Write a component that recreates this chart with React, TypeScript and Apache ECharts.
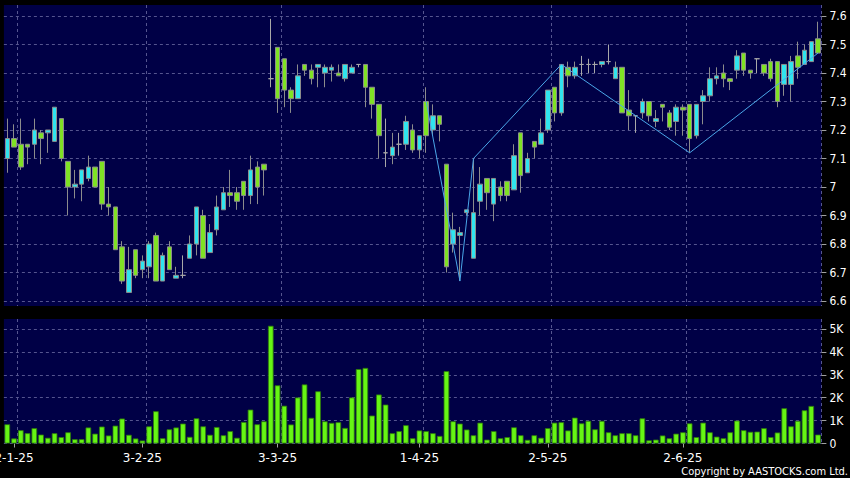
import React, { useEffect, useRef } from "react";
import * as echarts from "echarts";

// Trading days (d-m-yy)
const dec24 = [31];
const jan25 = [2, 3, 6, 7, 8, 9, 10, 13, 14, 15, 16, 17, 20, 21, 22, 23, 24, 27, 28];
const feb25 = [3, 4, 5, 6, 7, 10, 11, 12, 13, 14, 17, 18, 19, 20, 21, 24, 25, 26, 27, 28];
const mar25 = [3, 4, 5, 6, 7, 10, 11, 12, 13, 14, 17, 18, 19, 20, 21, 24, 25, 26, 27, 28, 31];
const apr25 = [1, 2, 3, 7, 8, 9, 10, 11, 14, 15, 16, 17, 22, 23, 24, 25, 28, 29, 30];
const may25 = [2, 6, 7, 8, 9, 12, 13, 14, 15, 16, 19, 20, 21, 22, 23, 26, 27, 28, 29, 30];
const jun25 = [2, 3, 4, 5, 6, 9, 10, 11, 12, 13, 16, 17, 18, 19, 20, 23, 24, 25, 26, 27, 30];

const dates: string[] = [
  ...dec24.map((d) => `${d}-12-24`),
  ...jan25.map((d) => `${d}-1-25`),
  ...feb25.map((d) => `${d}-2-25`),
  ...mar25.map((d) => `${d}-3-25`),
  ...apr25.map((d) => `${d}-4-25`),
  ...may25.map((d) => `${d}-5-25`),
  ...jun25.map((d) => `${d}-6-25`),
];

const labelDates = ["2-1-25", "3-2-25", "3-3-25", "1-4-25", "2-5-25", "2-6-25"];

// [open, close, low, high]
const candles: number[][] = [
  [7.10, 7.17, 7.05, 7.24], [7.17, 7.14, 7.14, 7.22], [7.15, 7.07, 7.06, 7.24], [7.15, 7.14, 7.08, 7.15],
  [7.15, 7.20, 7.10, 7.24], [7.19, 7.17, 7.08, 7.20], [7.19, 7.20, 7.12, 7.20], [7.16, 7.28, 7.16, 7.28],
  [7.24, 7.10, 7.09, 7.24], [7.09, 7.00, 6.90, 7.09], [7.00, 7.01, 6.96, 7.06], [7.01, 7.06, 6.95, 7.06],
  [7.03, 7.07, 7.02, 7.11], [7.07, 7.00, 7.00, 7.07], [7.09, 6.94, 6.92, 7.09], [6.94, 6.93, 6.90, 7.00],
  [6.93, 6.78, 6.78, 6.93], [6.79, 6.67, 6.66, 6.81], [6.63, 6.71, 6.63, 6.79], [6.78, 6.69, 6.68, 6.78],
  [6.71, 6.74, 6.68, 6.76], [6.72, 6.80, 6.68, 6.81], [6.83, 6.67, 6.67, 6.84], [6.67, 6.76, 6.67, 6.77],
  [6.79, 6.71, 6.71, 6.81], [6.68, 6.69, 6.68, 6.72], [6.69, 6.69, 6.68, 6.76], [6.75, 6.80, 6.75, 6.83],
  [6.80, 6.93, 6.76, 6.93], [6.90, 6.75, 6.75, 6.92], [6.77, 6.84, 6.77, 6.87], [6.85, 6.93, 6.83, 6.97],
  [6.92, 6.98, 6.92, 7.00], [6.98, 6.97, 6.93, 7.06], [6.98, 6.95, 6.92, 7.00], [7.02, 6.97, 6.92, 7.02],
  [6.97, 7.06, 6.94, 7.11], [7.07, 7.00, 6.94, 7.09], [7.08, 7.06, 6.97, 7.08], [7.38, 7.38, 7.35, 7.59],
  [7.49, 7.31, 7.26, 7.49], [7.45, 7.34, 7.28, 7.45], [7.34, 7.31, 7.26, 7.35], [7.31, 7.39, 7.31, 7.43],
  [7.43, 7.41, 7.39, 7.43], [7.41, 7.38, 7.36, 7.43], [7.42, 7.43, 7.35, 7.43], [7.40, 7.42, 7.35, 7.43],
  [7.41, 7.42, 7.37, 7.43], [7.40, 7.39, 7.39, 7.43], [7.38, 7.43, 7.37, 7.43], [7.40, 7.42, 7.40, 7.43],
  [7.43, 7.43, 7.42, 7.43], [7.43, 7.35, 7.28, 7.43], [7.35, 7.29, 7.24, 7.35], [7.29, 7.18, 7.10, 7.29],
  [7.12, 7.12, 7.07, 7.24], [7.11, 7.14, 7.08, 7.19], [7.15, 7.15, 7.11, 7.19], [7.15, 7.23, 7.13, 7.25],
  [7.20, 7.13, 7.12, 7.22], [7.13, 7.18, 7.10, 7.18], [7.30, 7.18, 7.12, 7.35], [7.20, 7.25, 7.18, 7.29],
  [7.25, 7.22, 7.16, 7.25], [7.08, 6.72, 6.70, 7.08], [6.80, 6.85, 6.77, 6.91], [6.83, 6.84, 6.67, 6.86],
  [6.91, 6.92, 6.90, 6.92], [6.75, 6.91, 6.75, 7.10], [6.95, 7.01, 6.90, 7.07], [7.03, 6.98, 6.92, 7.03],
  [6.94, 7.03, 6.88, 7.03], [7.00, 6.97, 6.95, 7.02], [7.02, 6.97, 6.95, 7.02], [6.99, 7.11, 6.99, 7.15],
  [7.19, 7.04, 6.98, 7.19], [7.05, 7.10, 7.05, 7.12], [7.16, 7.14, 7.10, 7.16], [7.15, 7.19, 7.15, 7.24],
  [7.20, 7.34, 7.19, 7.34], [7.35, 7.26, 7.23, 7.35], [7.26, 7.43, 7.25, 7.43], [7.42, 7.39, 7.35, 7.44],
  [7.39, 7.42, 7.38, 7.44], [7.43, 7.43, 7.39, 7.46], [7.43, 7.43, 7.40, 7.45], [7.43, 7.43, 7.40, 7.44],
  [7.43, 7.44, 7.42, 7.44], [7.44, 7.44, 7.43, 7.50], [7.38, 7.42, 7.38, 7.44], [7.42, 7.26, 7.26, 7.42],
  [7.27, 7.25, 7.20, 7.34], [7.25, 7.25, 7.19, 7.25], [7.26, 7.30, 7.24, 7.31], [7.30, 7.25, 7.23, 7.30],
  [7.23, 7.24, 7.21, 7.27], [7.29, 7.28, 7.23, 7.29], [7.26, 7.21, 7.20, 7.27], [7.23, 7.28, 7.18, 7.29],
  [7.28, 7.27, 7.18, 7.29], [7.29, 7.17, 7.12, 7.29], [7.18, 7.29, 7.17, 7.29], [7.30, 7.32, 7.22, 7.34],
  [7.32, 7.38, 7.30, 7.42], [7.38, 7.39, 7.36, 7.42], [7.40, 7.38, 7.35, 7.43], [7.38, 7.37, 7.34, 7.38],
  [7.41, 7.46, 7.38, 7.48], [7.47, 7.41, 7.39, 7.47], [7.41, 7.40, 7.38, 7.41], [7.45, 7.45, 7.40, 7.45],
  [7.43, 7.40, 7.39, 7.43], [7.44, 7.38, 7.37, 7.45], [7.44, 7.30, 7.28, 7.44], [7.36, 7.43, 7.32, 7.43],
  [7.36, 7.44, 7.30, 7.46], [7.46, 7.42, 7.38, 7.51], [7.43, 7.48, 7.43, 7.50], [7.44, 7.51, 7.44, 7.51],
  [7.52, 7.47, 7.47, 7.58],
];

const volumes: number[] = [
  840, 220, 580, 450, 670, 390, 250, 450, 280, 490, 190, 190, 700, 430, 740, 350, 780, 1090, 380, 220,
  130, 750, 1410, 230, 620, 700, 870, 290, 1100, 750, 380, 720, 360, 540, 250, 940, 1480, 840, 970, 5140,
  2540, 1650, 830, 2010, 2580, 1120, 2280, 970, 900, 930, 680, 2010, 3250, 3300, 1220, 2140, 1700, 450, 540, 800,
  230, 570, 540, 450, 330, 3160, 970, 870, 610, 360, 910, 170, 540, 230, 280, 710, 360, 160, 360, 250,
  670, 910, 930, 570, 1130, 880, 990, 620, 990, 490, 360, 450, 450, 360, 1100, 140, 170, 350, 230, 430,
  490, 880, 280, 910, 490, 300, 230, 490, 1000, 580, 510, 520, 670, 280, 480, 1540, 750, 990, 1450, 1640,
  390,
];

// Zig-zag turning points [date, price]
const zigzag: [string, number][] = [
  ["2-4-25", 7.30], ["10-4-25", 6.67], ["14-4-25", 7.10], ["7-5-25", 7.43], ["3-6-25", 7.12], ["30-6-25", 7.47],
];

const priceTicks = { min: 6.6, max: 7.6, step: 0.1 };
const volumeTicks = { min: 0, max: 5000, step: 1000 };

const NAVY = "#000046";
const GRIDLINE = "#55558f";
const UP = "#30e4ee";
const DOWN = "#7fe224";

export default function App() {
  const ref = useRef<HTMLDivElement>(null);

  useEffect(() => {
    if (!ref.current) return;
    const chart = echarts.init(ref.current, null, { renderer: "svg" });
    const labelIdx = labelDates.map((d) => dates.indexOf(d));
    const splitIdx = labelIdx.map((i) => i + 1);
    const L = 3.9;
    const R = 28.6;
    const dashed = { color: GRIDLINE, type: [3, 3] as any, width: 1 };
    const hiddenX = (gridIndex: number) => ({
      type: "category",
      gridIndex,
      data: dates,
      boundaryGap: true,
      axisLine: { show: false },
      axisTick: { show: false },
      axisLabel: { show: false },
      splitLine: { show: false },
    });
    const bgX = (gridIndex: number, withLabels: boolean) => ({
      type: "category",
      gridIndex,
      data: dates,
      boundaryGap: true,
      axisLine: { show: false },
      axisTick: {
        show: withLabels,
        alignWithLabel: true,
        interval: (i: number) => labelIdx.includes(i),
        length: 4,
        lineStyle: { color: "#a0a0a0" },
      },
      axisLabel: {
        show: withLabels,
        interval: (i: number) => labelIdx.includes(i),
        color: "#ffffff",
        fontFamily: "DejaVu Sans",
        fontSize: 12,
        margin: 8,
      },
      splitLine: {
        show: true,
        interval: (i: number) => splitIdx.includes(i),
        lineStyle: dashed,
      },
    });
    const fmtPrice = (v: number) => String(Number(v.toFixed(1)));
    const fmtVol = (v: number) => (v === 0 ? "0" : `${v / 1000}K`);

    chart.setOption({
      animation: false,
      backgroundColor: "#000000",
      grid: [
        { left: L, right: R, top: 5, height: 301, show: true, backgroundColor: NAVY, borderWidth: 0, outerBoundsMode: "none" },
        { left: L, right: R, top: 16, height: 285, outerBoundsMode: "none" },
        { left: L, right: R, top: 319, height: 124.5, show: true, backgroundColor: NAVY, borderWidth: 0, outerBoundsMode: "none" },
        { left: L, right: R, top: 329, height: 114.5, outerBoundsMode: "none" },
      ],
      xAxis: [bgX(0, false), hiddenX(1), bgX(2, true), hiddenX(3)],
      yAxis: [
        { type: "value", gridIndex: 0, show: false },
        {
          type: "value",
          gridIndex: 1,
          position: "right",
          min: priceTicks.min,
          max: priceTicks.max,
          interval: priceTicks.step,
          axisLine: { show: false },
          axisTick: { show: true, length: 5, lineStyle: { color: "#a0a0a0" } },
          axisLabel: {
            color: "#ffffff",
            fontFamily: "DejaVu Sans Condensed, DejaVu Sans",
            fontSize: 12,
            margin: 8,
            formatter: fmtPrice,
          },
          splitLine: { show: true, lineStyle: dashed },
        },
        { type: "value", gridIndex: 2, show: false },
        {
          type: "value",
          gridIndex: 3,
          position: "right",
          min: volumeTicks.min,
          max: volumeTicks.max,
          interval: volumeTicks.step,
          axisLine: { show: false },
          axisTick: { show: true, length: 5, lineStyle: { color: "#a0a0a0" } },
          axisLabel: {
            color: "#ffffff",
            fontFamily: "DejaVu Sans Condensed, DejaVu Sans",
            fontSize: 12,
            margin: 8,
            formatter: fmtVol,
          },
          splitLine: { show: true, lineStyle: dashed },
        },
      ],
      series: [
        {
          type: "candlestick",
          xAxisIndex: 1,
          yAxisIndex: 1,
          data: candles,
          barWidth: 5,
          clip: false,
          itemStyle: {
            color: UP,
            color0: DOWN,
            borderColor: "#8c8c8c",
            borderColor0: "#8c8c8c",
            borderColorDoji: "#a8a8a8",
            borderWidth: 1,
          },
        },
        {
          type: "line",
          xAxisIndex: 1,
          yAxisIndex: 1,
          data: zigzag,
          symbol: "none",
          lineStyle: { color: "#4aa6e8", width: 1 },
          z: 3,
        },
        {
          type: "bar",
          xAxisIndex: 3,
          yAxisIndex: 3,
          data: volumes,
          barWidth: 5.6,
          clip: false,
          itemStyle: { color: "#66f514", borderColor: "#2f7a0c", borderWidth: 0.8 },
        },
      ],
      graphic: [
        {
          type: "text",
          right: 2,
          bottom: 1,
          style: {
            text: "Copyright by AASTOCKS.com Ltd.",
            fill: "#ffffff",
            font: '11px "DejaVu Sans Condensed", "DejaVu Sans"',
          },
        },
      ],
    });
    return () => chart.dispose();
  }, []);

  return (
    <div
      ref={ref}
      style={{ position: "fixed", left: 0, top: 0, width: 850, height: 478, background: "#000" }}
    />
  );
}
